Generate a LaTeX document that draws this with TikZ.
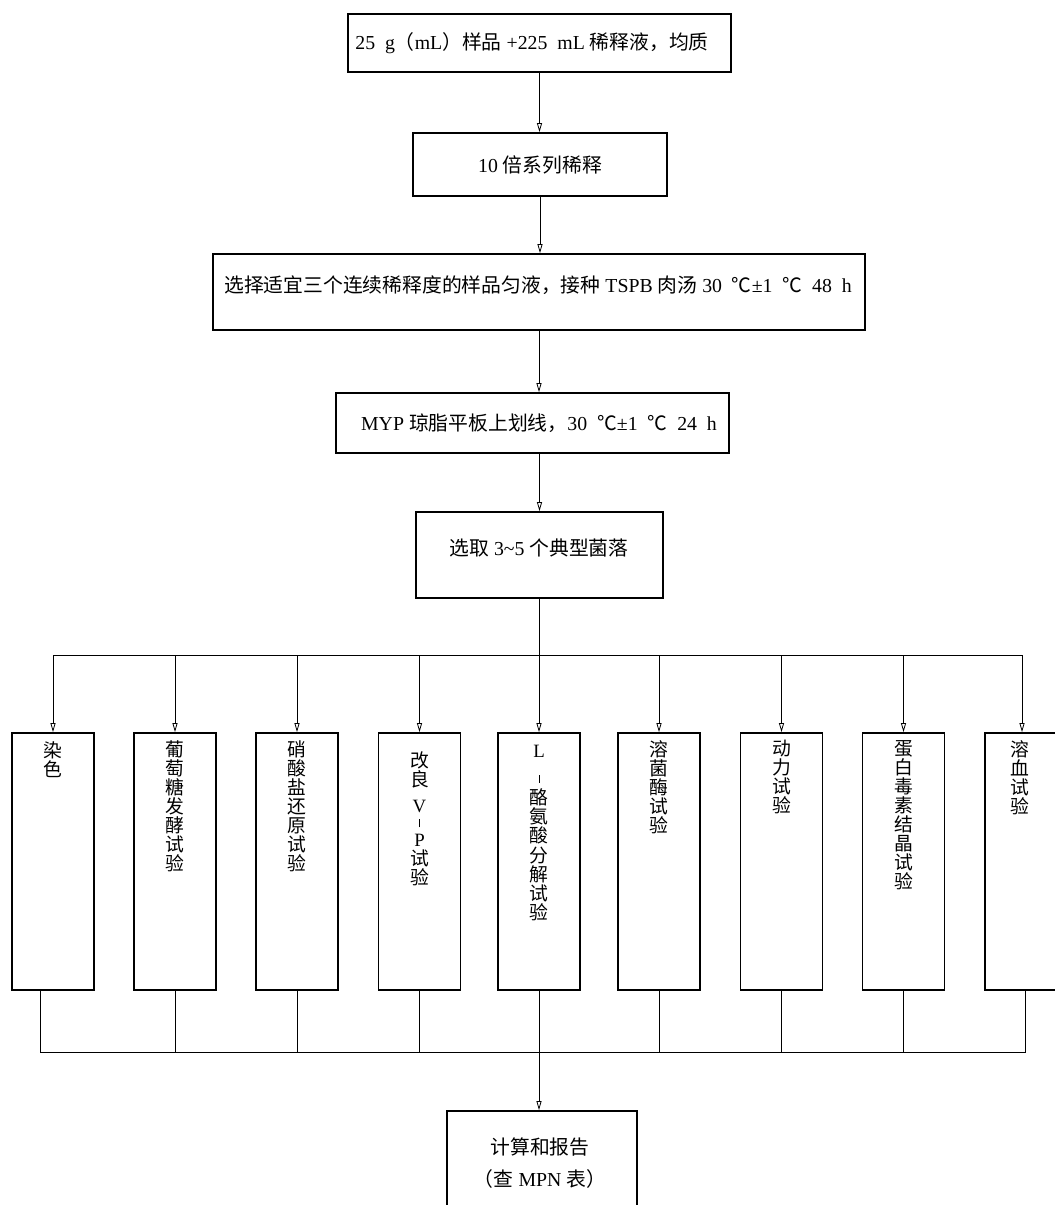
\documentclass[tikz,border=0pt]{standalone}
\usepackage{fontspec}
\setmainfont{Liberation Serif}
\newfontfamily\cjk{Noto Sans CJK SC}
\usetikzlibrary{arrows.meta,calc}
\newcommand{\vdsh}{\rule{0.9pt}{8pt}}
\begin{document}
\begin{tikzpicture}[x=1pt,y=-1pt,
  box/.style={draw,line width=1.7pt,inner sep=0pt},
  vbox/.style={box,minimum width=82pt,minimum height=257pt},
  conn/.style={line width=0.8pt},
  arr/.style={conn,-{Triangle[open,length=9pt,width=5pt]}},
  htxt/.style={font=\fontsize{19.8}{23}\selectfont,inner sep=0pt},
  vtxt/.style={font=\cjk\fontsize{18.8}{19.1}\selectfont,align=center,inner sep=0pt,anchor=north},
]
\useasboundingbox[fill=white] (0,0) rectangle (1055,1205);

% top chain
\node[box,minimum width=383pt,minimum height=58pt] (b1) at (539.5,43) {};
\node[htxt] (t1) at (532,43) {25\ \ g{\cjk （}mL{\cjk ）样品} +225\ \ mL {\cjk 稀释液，均质}};
\node[box,minimum width=254pt,minimum height=63pt] (b2) at (540,164.5) {};
\node[htxt] (t2) at (b2) {10 {\cjk 倍系列稀释}};
\node[box,minimum width=652pt,minimum height=76pt] (b3) at (539,292) {};
\node[htxt] (t3) at (538,285) {{\cjk 选择适宜三个连续稀释度的样品匀液，接种} TSPB {\cjk 肉汤} 30\ \ {\cjk ℃}±1\ \ {\cjk ℃}\ \ 48\ \ h};
\node[box,minimum width=393pt,minimum height=60pt] (b4) at (532.5,423) {};
\node[htxt] (t4) at (539,423) {MYP {\cjk 琼脂平板上划线，}30\ \ {\cjk ℃}±1\ \ {\cjk ℃}\ \ 24\ \ h};
\node[box,minimum width=247pt,minimum height=86pt] (b5) at (539.5,555) {};
\node[htxt] (t5) at (539,548) {{\cjk 选取} 3\char`~5 {\cjk 个典型菌落}};

\draw[arr] (b1.south) -- (b1.south |- b2.north);
\draw[arr] (b2.south) -- (b2.south |- b3.north);
\draw[arr] (b3.south) -- (b3.south |- b4.north);
\draw[arr] (b4.south -| b5.north) -- (b5.north);

% nine test boxes
\node[vbox] (v1) at (53,861.5) {};
\node[vbox] (v2) at (175,861.5) {};
\node[vbox] (v3) at (297,861.5) {};
\node[vbox] (v4) at (419.5,861.5) {};
\node[vbox] (v5) at (539,861.5) {};
\node[vbox] (v6) at (659,861.5) {};
\node[vbox] (v7) at (781.5,861.5) {};
\node[vbox] (v8) at (903.5,861.5) {};
\node[vbox] (v9) at (1026,861.5) {};

\node[vtxt] (w1) at (53,741) {染\\色};
\node[vtxt] (w2) at (175,740) {葡\\萄\\糖\\发\\酵\\试\\验};
\node[vtxt] (w3) at (297,740) {硝\\酸\\盐\\还\\原\\试\\验};
\node[vtxt] (w4) at (419.5,751) {改\\良\\[7pt]{\rmfamily V}\\[-4pt]\vdsh\\{\rmfamily P}\\试\\验};
\node[vtxt] (w5) at (539,745) {{\rmfamily L}\\[6pt]\vdsh\\[3pt]酪\\氨\\酸\\分\\解\\试\\验};
\node[vtxt] (w6) at (659,740) {溶\\菌\\酶\\试\\验};
\node[vtxt] (w7) at (781.5,740) {动\\力\\试\\验};
\node[vtxt] (w8) at (903.5,740) {蛋\\白\\毒\\素\\结\\晶\\试\\验};
\node[vtxt] (w9) at (1020,740) {溶\\血\\试\\验};

% branch line
\coordinate (br) at (0,655);
\coordinate (a9) at ($(v9.north)+(-4,0)$);
\draw[conn] (b5.south) -- (b5.south |- br);
\draw[conn] (v1.north |- br) -- (a9 |- br);
\foreach \i in {1,...,8} {
  \draw[arr] (v\i.north |- br) -- (v\i.north);
}
\draw[arr] (a9 |- br) -- (a9);

% collection line
\coordinate (bt) at (0,1052);
\coordinate (d1) at ($(v1.south)+(-13,0)$);
\coordinate (d9) at ($(v9.south)+(-1,0)$);
\draw[conn] (d1) -- (d1 |- bt) -- (d9 |- bt) -- (d9);
\foreach \i in {2,3,4,6,7,8} {
  \draw[conn] (v\i.south) -- (v\i.south |- bt);
}

% final box
\node[box,minimum width=190pt,minimum height=114pt] (fin) at (542,1168) {};
\node[htxt] (f1) at (540,1147) {\cjk 计算和报告};
\node[htxt] (f2) at (540,1179) {{\cjk （查} MPN {\cjk 表）}};
\draw[arr] (v5.south) -- (v5.south |- fin.north);
\end{tikzpicture}
\end{document}
